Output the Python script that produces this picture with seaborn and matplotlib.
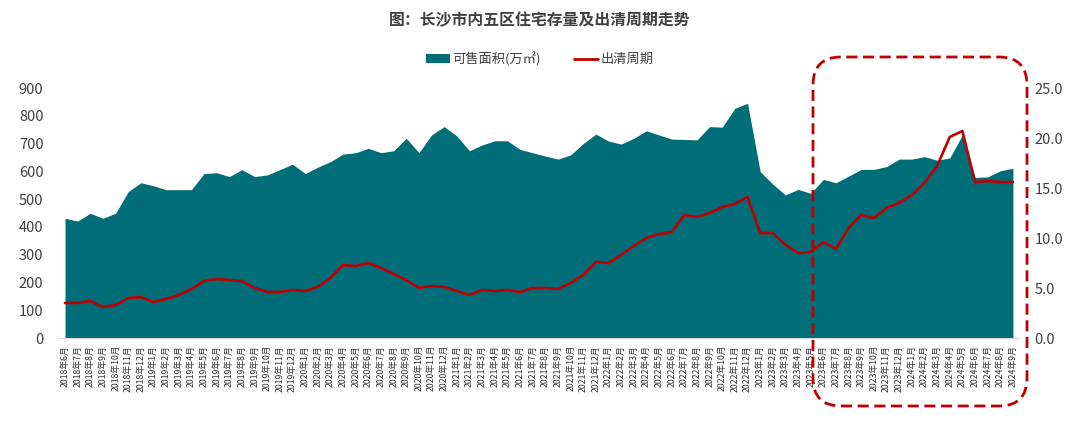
import numpy as np
import pandas as pd
import seaborn as sns
import matplotlib.pyplot as plt
from matplotlib.patches import Patch, FancyBboxPatch
from matplotlib.lines import Line2D
from matplotlib.transforms import IdentityTransform

# 数据：2018年6月 - 2024年9月
months = pd.period_range('2018-06', '2024-09', freq='M')
month_labels = [f"{p.year}年{p.month}月" for p in months]

# 可售面积(万㎡)
area_2018_2020 = [431, 421, 449, 431, 449, 527, 559, 548, 534, 534, 534, 592,
                  595, 581, 606, 581, 587, 606, 626, 592, 615, 635, 662, 667]
area_2020_2022 = [683, 667, 674, 719, 667, 731, 761, 727, 674, 695, 710, 710,
                  679, 667, 655, 644, 659, 700, 734, 709, 698, 719, 746, 731,
                  716, 715, 713]
area_2022_2024 = [761, 759, 827, 845, 599, 554, 515, 535, 521, 571, 559, 583,
                  607, 607, 617, 644, 644, 653, 640, 648, 731, 578, 580, 602, 611]
area = area_2018_2020 + area_2020_2022 + area_2022_2024

# 出清周期(月)
cycle_2018_2020 = [3.5, 3.5, 3.7, 3.1, 3.3, 4.0, 4.1, 3.6, 3.9, 4.3, 4.9,
                   5.7, 5.9, 5.8, 5.7, 5.0, 4.6, 4.6, 4.8, 4.7, 5.1, 6.0]
cycle_2020_2022 = [7.3, 7.2, 7.5, 7.0, 6.4, 5.8, 5.0, 5.2, 5.1, 4.7, 4.3, 4.8,
                   4.7, 4.8, 4.6, 5.0, 5.0, 4.9, 5.5, 6.3, 7.6, 7.5, 8.3, 9.2,
                   10.0, 10.4, 10.6, 12.3, 12.1]
cycle_2022_2024 = [12.5, 13.1, 13.4, 14.1, 10.5, 10.5, 9.3, 8.5, 8.6, 9.6, 8.9,
                   11.0, 12.3, 12.0, 13.0, 13.5, 14.3, 15.5, 17.2, 20.1, 20.7,
                   15.6, 15.7, 15.6, 15.6]
cycle = cycle_2018_2020 + cycle_2020_2022 + cycle_2022_2024

df = pd.DataFrame({'idx': np.arange(len(month_labels)), 'area': area, 'cycle': cycle})

teal = '#006E78'
red = '#C00000'
txt = '#404040'

sns.set_style('white')
plt.rcParams['font.family'] = ['Noto Sans CJK SC', 'DejaVu Sans']

fig = plt.figure(figsize=(10.8, 4.26), dpi=100)
ax = fig.add_axes([58.7 / 1080, 1 - 338 / 426, (1018 - 58.7) / 1080, 250 / 426])

ax.fill_between(df['idx'], 0, df['area'], color=teal, linewidth=0)
ax.set_xlim(-0.5, 75.4)
ax.set_ylim(0, 900)
ax.set_yticks(range(0, 901, 100))
ax.set_xticks(df['idx'])
ax.set_xticklabels(month_labels, rotation=90, fontsize=6.3, color='#303030')
ax.tick_params(axis='y', length=0, pad=11, labelsize=10.5, labelcolor=txt)
ax.tick_params(axis='x', length=0, pad=5)
for s in ['top', 'right', 'left']:
    ax.spines[s].set_visible(False)
ax.spines['bottom'].set_color('#D9D9D9')

ax2 = ax.twinx()
sns.lineplot(data=df, x='idx', y='cycle', ax=ax2, color=red, linewidth=1.9)
ax2.set_ylim(0, 25)
ax2.set_yticks(np.arange(0, 25.1, 5))
ax2.set_yticklabels([f"{v:.1f}" for v in np.arange(0, 25.1, 5)])
ax2.tick_params(axis='y', length=0, pad=12, labelsize=10.5, labelcolor=txt)
ax2.set_xlabel('')
ax2.set_ylabel('')
for s in ax2.spines.values():
    s.set_visible(False)

fig.text(0.5, 1 - 20 / 426, '图：长沙市内五区住宅存量及出清周期走势',
         ha='center', va='center', fontsize=11.4, fontweight='bold', color=txt)

handles = [Patch(facecolor=teal, edgecolor='none'),
           Line2D([0], [0], color=red, linewidth=2)]
fig.legend(handles, ['可售面积(万㎡)', '出清周期'], loc='center',
           bbox_to_anchor=(0.5, 1 - 59 / 426), ncol=2, frameon=False,
           fontsize=9.5, handlelength=1.8, handletextpad=0.2, columnspacing=2.5,
           labelcolor=txt)

# 红色虚线圆角框
box = FancyBboxPatch((813, 426 - 406), 1027 - 813, 406 - 57,
                     boxstyle='round,pad=0,rounding_size=28',
                     transform=IdentityTransform(), fill=False,
                     edgecolor=red, linewidth=2, linestyle=(0, (4, 2)))
fig.patches.append(box)

fig.savefig('out.png', dpi=100)
